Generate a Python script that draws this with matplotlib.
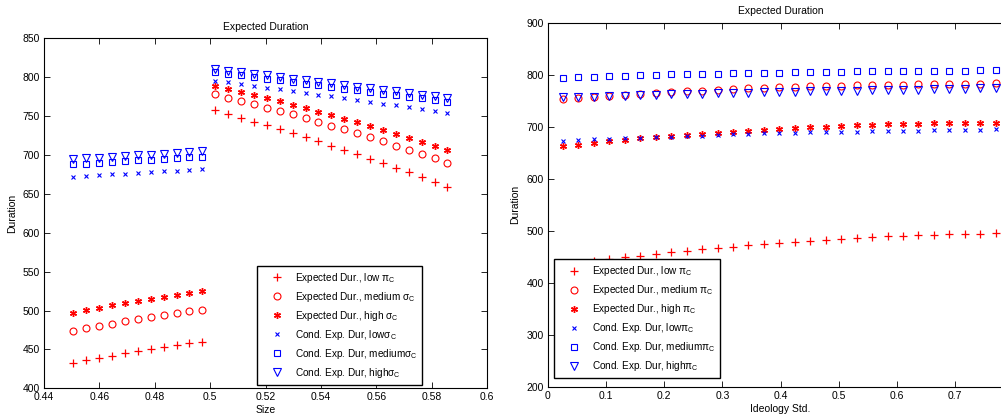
import numpy as np
import matplotlib
matplotlib.use('Agg')
import matplotlib.pyplot as plt

plt.rcParams.update({'font.size': 7.5, 'font.family': 'Liberation Sans',
                     'mathtext.fontset': 'custom', 'mathtext.rm': 'Liberation Sans',
                     'mathtext.it': 'Liberation Sans', 'mathtext.bf': 'Liberation Sans:bold',
                     'axes.linewidth': 0.8})

# ---- left panel: Size ----
size = [0.4506, 0.4553, 0.4599, 0.4646, 0.4692, 0.4739, 0.4786, 0.4832, 0.4879, 0.4925,
        0.4972, 0.5018, 0.5065, 0.5112, 0.5158, 0.5205, 0.5251, 0.5298, 0.5345, 0.5391,
        0.5438, 0.5484, 0.5531, 0.5578, 0.5624, 0.5671, 0.5717, 0.5764, 0.5811, 0.5857]

exp_low_s = [433, 436, 439, 442, 445, 447.5, 450.5, 453, 455.5, 458, 460,
             757.4, 752.7, 748, 743, 738.1, 733, 727.9, 723, 717.6, 712, 706.4, 700.9,
             695.2, 689.3, 683.6, 677.7, 671.7, 665.7, 659.2]
exp_med_s = [474, 477, 480, 483, 486, 489, 491.5, 494, 496.5, 499, 501,
             778, 773.6, 769.8, 765.5, 760.8, 756.5, 752.3, 747.1, 742.4, 737.6, 733, 727.9,
             723, 717.6, 712, 706.8, 701.3, 695.7, 690]
exp_high_s = [497, 500.5, 503.5, 506.5, 509.5, 512, 515, 517.5, 520, 522.5, 525,
              788.3, 784.4, 781, 777.1, 772.9, 769, 764.6, 760, 755.7, 751.4, 746.6, 742,
              737.2, 732.1, 727.4, 722.2, 717.1, 712, 706.4]
cond_low_s = [672, 673, 674, 675, 676, 677, 678, 679, 680, 681, 682,
              795.5, 793.4, 791.2, 789.1, 786.5, 784.4, 782.2, 780, 777.5, 775.4, 773.2, 770.7,
              768.5, 766, 763.9, 761.7, 759.1, 757, 754.4]
cond_med_s = [688, 689, 690, 691, 692, 693, 694, 695, 696, 697, 698,
              806.7, 804.5, 802.4, 800.2, 798.1, 796, 793.8, 791.7, 789.6, 787.4, 785.2, 783.1,
              781, 778.8, 776.7, 774.9, 772.9, 770.7, 767.7]
cond_high_s = [694.5, 695.5, 696.5, 697.5, 698.5, 699.5, 700.5, 701.5, 702.5, 703.5, 704.5,
               810.5, 808.4, 806.4, 804.3, 802.3, 800.2, 798.2, 796.1, 794, 792, 789.9, 787.9,
               785.8, 783.8, 781.7, 779.6, 777.6, 775.5, 773.4]

# ---- right panel: Ideology Std. ----
ideo = [0.0263, 0.0528, 0.0794, 0.1059, 0.1324, 0.159, 0.1855, 0.2121, 0.2386, 0.2652,
        0.2917, 0.3182, 0.3448, 0.3713, 0.3979, 0.4244, 0.451, 0.4775, 0.504, 0.5306,
        0.5571, 0.5837, 0.6102, 0.6368, 0.6633, 0.6898, 0.7164, 0.7429, 0.7695]

exp_low_i = [433, 438, 442.3, 445.5, 448.7, 451.9, 455.8, 458.3, 460.9, 464.1, 466, 469.2,
             471.8, 474.3, 476.3, 478.8, 480.8, 482, 484, 485.9, 487.8, 489.1, 490.4, 491.7,
             492.3, 493, 493.6, 494.2, 494.9]
exp_med_i = [753, 755, 757, 759, 761, 763, 765, 766.5, 768, 769.5, 771, 772, 773.5, 774.5,
             775.5, 776.5, 777.5, 778, 779, 779.5, 780, 780.5, 781, 781.5, 782, 782.5, 783,
             783, 783.5]
exp_high_i = [662.9, 665.5, 669.3, 671.9, 675.1, 677.6, 679.6, 681.5, 684, 686, 687.3, 689.8,
              692.4, 693.7, 695.6, 697.5, 698.8, 700.1, 701.4, 702.6, 703.3, 704.6, 705.2,
              705.8, 706.5, 707.1, 707.1, 707.8, 707.8]
cond_low_i = [672.5, 674, 675.5, 676.5, 678, 679, 680, 681, 682, 683, 684, 685, 686, 687,
              687.5, 688, 689, 689.5, 690, 690.5, 691, 691.5, 692, 692.5, 693, 693.5, 694,
              694.5, 695]
cond_med_i = [794, 795, 796, 797, 798, 799, 799.5, 800.5, 801, 801.5, 802, 802.5, 803, 803.5,
              804, 804.5, 805, 805.5, 806, 806.5, 806.5, 807, 807, 807.5, 807.5, 808, 808,
              808.5, 808.5]
cond_high_i = [757, 757.5, 758, 759, 759.5, 760.5, 761, 762, 762.5, 763.5, 764, 765, 765.5,
               766, 767, 767.5, 768, 768.5, 769, 769.5, 770, 770.5, 771, 771.5, 772, 772.5,
               773, 773.5, 774]

labels_s = [r'Expected Dur., low $\pi_{C}$', r'Expected Dur., medium $\sigma_{C}$',
            r'Expected Dur., high $\sigma_{C}$', r'Cond. Exp. Dur, low$\sigma_{C}$',
            r'Cond. Exp. Dur, medium$\sigma_{C}$', r'Cond. Exp. Dur, high$\sigma_{C}$']
labels_i = [r'Expected Dur., low $\pi_{C}$', r'Expected Dur., medium $\pi_{C}$',
            r'Expected Dur., high $\pi_{C}$', r'Cond. Exp. Dur, low$\pi_{C}$',
            r'Cond. Exp. Dur, medium$\pi_{C}$', r'Cond. Exp. Dur, high$\pi_{C}$']

styles = [dict(marker='+', ms=5.5, color='red', mew=0.9),
          dict(marker='o', ms=5, color='red', mfc='none', mew=0.8),
          dict(marker=(6, 2, 0), ms=5, color='red', mew=1.0),
          dict(marker='x', ms=3.5, color='blue', mew=0.8),
          dict(marker='s', ms=4, color='blue', mfc='none', mew=0.8),
          dict(marker='v', ms=5.5, color='blue', mfc='none', mew=0.8)]

W, H = 1001, 419
fig = plt.figure(figsize=(W/100, H/100), dpi=100)
ax1 = fig.add_axes([44/W, 1-388.3/H, 443/W, 350/H])
ax2 = fig.add_axes([547.7/W, 1-386.7/H, 465.8/W, 364/H])

series_s = [exp_low_s, exp_med_s, exp_high_s, cond_low_s, cond_med_s, cond_high_s]
series_i = [exp_low_i, exp_med_i, exp_high_i, cond_low_i, cond_med_i, cond_high_i]
for ys, st, lab in zip(series_s, styles, labels_s):
    ax1.plot(size, ys, ls='none', label=lab, **st)
for ys, st, lab in zip(series_i, styles, labels_i):
    ax2.plot(ideo, ys, ls='none', label=lab, **st)

ax1.set_xlim(0.44, 0.6)
ax1.set_ylim(400, 850)
ax1.set_xticks(np.arange(0.44, 0.601, 0.02))
ax1.set_xticklabels(['0.44', '0.46', '0.48', '0.5', '0.52', '0.54', '0.56', '0.58', '0.6'])
ax1.set_xlabel('Size', labelpad=2)

# right axis runs past the figure edge to 0.8, only ticks up to 0.7 are visible
ax2.set_xlim(0, 0.8)
ax2.set_ylim(200, 900)
ax2.set_xticks(np.arange(0, 0.71, 0.1))
ax2.set_xticklabels(['0', '0.1', '0.2', '0.3', '0.4', '0.5', '0.6', '0.7'])
ax2.set_xlabel('Ideology Std.', labelpad=2)

for ax in (ax1, ax2):
    ax.set_title('Expected Duration', fontsize=7.5, pad=6)
    ax.set_ylabel('Duration', labelpad=4)
    ax.tick_params(direction='in', top=True, right=True, length=4, width=0.6, pad=3)

leg_kw = dict(loc='upper left', bbox_transform=fig.transFigure, fancybox=False,
              edgecolor='black', framealpha=1, handlelength=3.0, handletextpad=0.3,
              labelspacing=0.5, borderpad=0.5, borderaxespad=0, fontsize=7.2)
l1 = ax1.legend(bbox_to_anchor=(256.7/W, 1-265.7/H), **leg_kw)
l2 = ax2.legend(bbox_to_anchor=(554/W, 1-259/H), **leg_kw)
for leg in (l1, l2):
    leg.get_frame().set_linewidth(1.0)

fig.savefig('out.png', dpi=100)
